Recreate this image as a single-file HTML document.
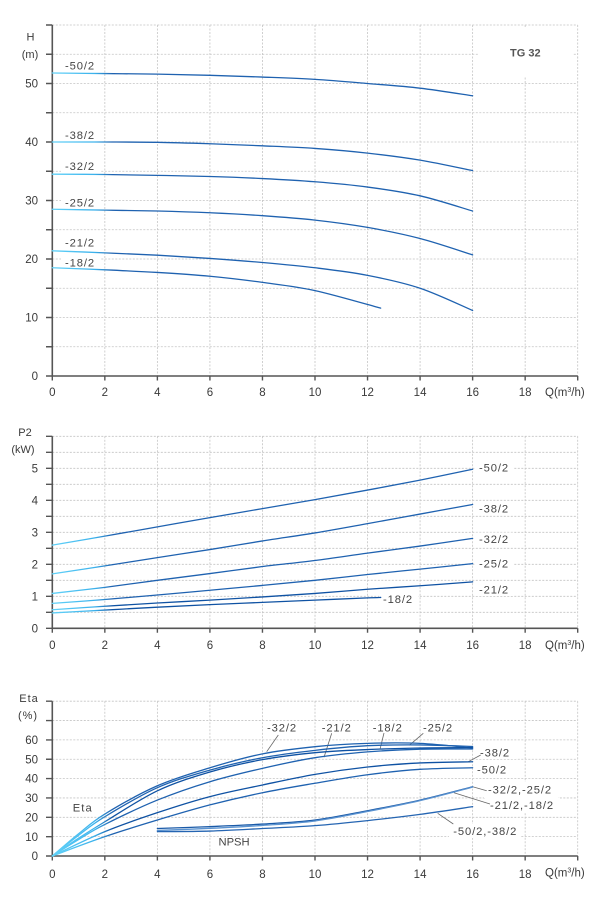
<!DOCTYPE html>
<html><head><meta charset="utf-8"><style>
html,body{margin:0;padding:0;background:#fff}
svg{display:block;font-family:"Liberation Sans",Arial,sans-serif}
.t{font-size:11.5px;fill:#3a3a3a}
.l{font-size:11.2px;fill:#444;letter-spacing:0.9px}
.g{stroke:#c4c4c4;stroke-width:0.8;stroke-dasharray:2 1.5;fill:none}
.ax{stroke:#555;stroke-width:1.6;fill:none}
.tk{stroke:#555;stroke-width:1.4;fill:none}
.pt{stroke:#666;stroke-width:0.8;fill:none}
.s{fill:none;stroke-width:1.3;stroke-linejoin:round;stroke-linecap:round}
</style></head><body>
<svg width="613" height="900" viewBox="0 0 613 900" xmlns="http://www.w3.org/2000/svg">
<defs>
<linearGradient id="gr" gradientUnits="userSpaceOnUse" x1="0" y1="0" x2="2.3" y2="0">
<stop offset="0" stop-color="#62d2f8"/><stop offset="0.7" stop-color="#3cb2ec"/><stop offset="1" stop-color="#1f62b0"/>
</linearGradient>
<linearGradient id="gr2" gradientUnits="userSpaceOnUse" x1="0" y1="0" x2="2.3" y2="0">
<stop offset="0" stop-color="#62d2f8"/><stop offset="0.7" stop-color="#3cb2ec"/><stop offset="1" stop-color="#0f52a3"/>
</linearGradient>
</defs>

<!-- ============ TOP CHART ============ -->
<path class="g" d="M52.3 346.75H577.7M52.3 317.5H577.7M52.3 288.25H577.7M52.3 259H577.7M52.3 229.75H577.7M52.3 200.5H577.7M52.3 171.25H577.7M52.3 142H577.7M52.3 112.75H577.7M52.3 83.5H577.7M52.3 54.25H577.7M52.3 25H577.7"/>
<path class="g" d="M104.84 25V376M157.38 25V376M209.92 25V376M262.46 25V376M315 25V376M367.54 25V376M420.08 25V376M472.62 25V376M525.16 25V376M577.7 25V376"/>
<rect x="479" y="27" width="94" height="50" fill="#fff"/>
<text x="525.3" y="56.3" text-anchor="middle" style="font-size:11px;font-weight:bold;fill:#555">TG 32</text>
<path class="ax" d="M52.3 25V376H577.7"/>
<path class="tk" d="M46 346.75H52.3M46 317.5H52.3M46 288.25H52.3M46 259H52.3M46 229.75H52.3M46 200.5H52.3M46 171.25H52.3M46 142H52.3M46 112.75H52.3M46 83.5H52.3M46 54.25H52.3M46 25H52.3M46 376H52.3"/>
<path class="tk" d="M52.3 376v4.5M104.84 376v4.5M157.38 376v4.5M209.92 376v4.5M262.46 376v4.5M315 376v4.5M367.54 376v4.5M420.08 376v4.5M472.62 376v4.5M525.16 376v4.5M577.7 376v4.5"/>
<g class="t" text-anchor="end">
<text x="38" y="380.1">0</text><text x="38" y="321.6">10</text><text x="38" y="263.1">20</text><text x="38" y="204.6">30</text><text x="38" y="146.1">40</text><text x="38" y="87.6">50</text>
</g>
<g class="t" text-anchor="middle">
<text x="52.3" y="396">0</text><text x="104.84" y="396">2</text><text x="157.38" y="396">4</text><text x="209.92" y="396">6</text><text x="262.46" y="396">8</text><text x="315" y="396">10</text><text x="367.54" y="396">12</text><text x="420.08" y="396">14</text><text x="472.62" y="396">16</text><text x="525.16" y="396">18</text>
<text x="30.5" y="40.7" style="font-size:11px">H</text><text x="30" y="58" style="font-size:11px">(m)</text>
</g>
<text x="545" y="396" class="t">Q(m<tspan dy="-4" style="font-size:7px">3</tspan><tspan dy="4">/h)</tspan></text>
<g fill="#fff">
<rect x="61" y="59" width="40" height="13"/><rect x="61" y="128.5" width="40" height="13"/><rect x="61" y="159.5" width="40" height="13"/><rect x="61" y="196" width="40" height="13"/><rect x="61" y="236" width="40" height="13"/><rect x="61" y="256" width="40" height="13"/>
</g>
<g class="l">
<text x="65" y="69.7">-50/2</text><text x="65" y="139">-38/2</text><text x="65" y="170">-32/2</text><text x="65" y="206.7">-25/2</text><text x="65" y="246.7">-21/2</text><text x="65" y="266.7">-18/2</text>
</g>
<g transform="matrix(26.27 0 0 -5.85 52.3 376)">
<polyline class="s" vector-effect="non-scaling-stroke" stroke="url(#gr)" points="0,51.8 2,51.7 4,51.6 6,51.4 8,51.1 10,50.7 12,50.0 14,49.2 16,47.9"/>
<polyline class="s" vector-effect="non-scaling-stroke" stroke="url(#gr)" points="0,40.0 2,40.0 4,39.95 6,39.7 8,39.35 10,38.9 12,38.1 14,36.9 16,35.1"/>
<polyline class="s" vector-effect="non-scaling-stroke" stroke="url(#gr)" points="0,34.5 2,34.45 4,34.3 6,34.1 8,33.75 10,33.2 12,32.3 14,30.8 16,28.2"/>
<polyline class="s" vector-effect="non-scaling-stroke" stroke="url(#gr)" points="0,28.5 2,28.35 4,28.2 6,27.9 8,27.4 10,26.65 12,25.4 14,23.5 16,20.7"/>
<polyline class="s" vector-effect="non-scaling-stroke" stroke="url(#gr)" points="0,21.4 2,21.05 4,20.65 6,20.1 8,19.4 10,18.5 12,17.2 14,15.0 16,11.2"/>
<polyline class="s" vector-effect="non-scaling-stroke" stroke="url(#gr)" points="0,18.5 2,18.15 4,17.7 6,17.05 8,16.0 10,14.6 12.5,11.6"/>
</g>

<!-- ============ MIDDLE CHART ============ -->
<path class="g" d="M52.3 612.3H577.7M52.3 596.3H577.7M52.3 580.3H577.7M52.3 564.3H577.7M52.3 548.3H577.7M52.3 532.3H577.7M52.3 516.3H577.7M52.3 500.3H577.7M52.3 484.3H577.7M52.3 468.3H577.7M52.3 452.3H577.7M52.3 436.3H577.7"/>
<path class="g" d="M104.84 436.3V628.3M157.38 436.3V628.3M209.92 436.3V628.3M262.46 436.3V628.3M315 436.3V628.3M367.54 436.3V628.3M420.08 436.3V628.3M472.62 436.3V628.3M525.16 436.3V628.3M577.7 436.3V628.3"/>
<path class="ax" d="M52.3 436.3V628.3H577.7"/>
<path class="tk" d="M46 612.3H52.3M46 596.3H52.3M46 580.3H52.3M46 564.3H52.3M46 548.3H52.3M46 532.3H52.3M46 516.3H52.3M46 500.3H52.3M46 484.3H52.3M46 468.3H52.3M46 452.3H52.3M46 436.3H52.3M46 628.3H52.3"/>
<path class="tk" d="M52.3 628.3v4.5M104.84 628.3v4.5M157.38 628.3v4.5M209.92 628.3v4.5M262.46 628.3v4.5M315 628.3v4.5M367.54 628.3v4.5M420.08 628.3v4.5M472.62 628.3v4.5M525.16 628.3v4.5M577.7 628.3v4.5"/>
<g class="t" text-anchor="end">
<text x="38" y="632.4">0</text><text x="38" y="600.4">1</text><text x="38" y="568.4">2</text><text x="38" y="536.4">3</text><text x="38" y="504.4">4</text><text x="38" y="472.4">5</text>
</g>
<g class="t" text-anchor="middle">
<text x="52.3" y="649">0</text><text x="104.84" y="649">2</text><text x="157.38" y="649">4</text><text x="209.92" y="649">6</text><text x="262.46" y="649">8</text><text x="315" y="649">10</text><text x="367.54" y="649">12</text><text x="420.08" y="649">14</text><text x="472.62" y="649">16</text><text x="525.16" y="649">18</text>
<text x="25" y="436" style="font-size:11px">P2</text><text x="23" y="453" style="font-size:11px">(kW)</text>
</g>
<text x="545" y="649" class="t">Q(m<tspan dy="-4" style="font-size:7px">3</tspan><tspan dy="4">/h)</tspan></text>
<g fill="#fff">
<rect x="475" y="461" width="39" height="13"/><rect x="475" y="502" width="39" height="13"/><rect x="475" y="532.5" width="39" height="13"/><rect x="475" y="557" width="39" height="13"/><rect x="475" y="583" width="39" height="13"/><rect x="379" y="592.5" width="39" height="13"/>
</g>
<g class="l">
<text x="479" y="471.7">-50/2</text><text x="479" y="512.3">-38/2</text><text x="479" y="543">-32/2</text><text x="479" y="567.3">-25/2</text><text x="479" y="593.3">-21/2</text><text x="383" y="603">-18/2</text>
</g>
<g transform="matrix(26.27 0 0 -32 52.3 628.3)">
<polyline class="s" vector-effect="non-scaling-stroke" stroke="url(#gr)" points="0,2.6 2,2.88 4,3.17 6,3.46 8,3.74 10,4.02 12,4.32 14,4.63 16,4.97"/>
<polyline class="s" vector-effect="non-scaling-stroke" stroke="url(#gr)" points="0,1.70 2,1.95 4,2.21 6,2.46 8,2.73 10,2.98 12,3.27 14,3.57 16,3.87"/>
<polyline class="s" vector-effect="non-scaling-stroke" stroke="url(#gr)" points="0,1.09 2,1.28 4,1.5 6,1.71 8,1.93 10,2.12 12,2.35 14,2.57 16,2.81"/>
<polyline class="s" vector-effect="non-scaling-stroke" stroke="url(#gr)" points="0,0.78 2,0.9 4,1.04 6,1.19 8,1.34 10,1.5 12,1.68 14,1.85 16,2.02"/>
<polyline class="s" vector-effect="non-scaling-stroke" stroke="url(#gr2)" points="0,0.58 2,0.69 4,0.79 6,0.88 8,0.98 10,1.09 12,1.22 14,1.33 16,1.45"/>
<polyline class="s" vector-effect="non-scaling-stroke" stroke="url(#gr2)" points="0,0.48 2,0.57 4,0.66 6,0.74 8,0.81 10,0.88 12,0.95 12.5,0.965"/>
</g>

<!-- ============ BOTTOM CHART ============ -->
<path class="g" d="M52.3 836.65H577.7M52.3 817.3H577.7M52.3 797.95H577.7M52.3 778.6H577.7M52.3 759.25H577.7M52.3 739.9H577.7M52.3 720.55H577.7M52.3 701.2H577.7"/>
<path class="g" d="M104.84 701.2V856M157.38 701.2V856M209.92 701.2V856M262.46 701.2V856M315 701.2V856M367.54 701.2V856M420.08 701.2V856M472.62 701.2V856M525.16 701.2V856M577.7 701.2V856"/>
<path class="ax" d="M52.3 701.2V856H577.7"/>
<path class="tk" d="M46 836.65H52.3M46 817.3H52.3M46 797.95H52.3M46 778.6H52.3M46 759.25H52.3M46 739.9H52.3M46 720.55H52.3M46 701.2H52.3M46 856H52.3"/>
<path class="tk" d="M52.3 856v4.5M104.84 856v4.5M157.38 856v4.5M209.92 856v4.5M262.46 856v4.5M315 856v4.5M367.54 856v4.5M420.08 856v4.5M472.62 856v4.5M525.16 856v4.5M577.7 856v4.5"/>
<g class="t" text-anchor="end">
<text x="38" y="860.1">0</text><text x="38" y="840.75">10</text><text x="38" y="821.4">20</text><text x="38" y="802.05">30</text><text x="38" y="782.7">40</text><text x="38" y="763.35">50</text><text x="38" y="744">60</text>
</g>
<g class="t" text-anchor="middle">
<text x="52.3" y="878">0</text><text x="104.84" y="878">2</text><text x="157.38" y="878">4</text><text x="209.92" y="878">6</text><text x="262.46" y="878">8</text><text x="315" y="878">10</text><text x="367.54" y="878">12</text><text x="420.08" y="878">14</text><text x="472.62" y="878">16</text><text x="525.16" y="878">18</text>
<text x="29" y="702" style="font-size:11px;letter-spacing:1px">Eta</text><text x="28" y="719" style="font-size:11px;letter-spacing:1px">(%)</text>
</g>
<text x="545" y="876.7" class="t">Q(m<tspan dy="-4" style="font-size:7px">3</tspan><tspan dy="4">/h)</tspan></text>
<g fill="#fff">
<rect x="484" y="782" width="74" height="16"/><rect x="486" y="798" width="74" height="14"/><rect x="449" y="824" width="72" height="14"/><rect x="476" y="746" width="40" height="13"/><rect x="473" y="763" width="40" height="13"/>
</g>
<g class="l">
<text x="267" y="731.3">-32/2</text><text x="321.7" y="731.3">-21/2</text><text x="372.7" y="731.3">-18/2</text><text x="423" y="731.3">-25/2</text>
<text x="480" y="756.7">-38/2</text><text x="477" y="773.3">-50/2</text>
<text x="488" y="793.3">-32/2,-25/2</text><text x="490" y="809">-21/2,-18/2</text><text x="453.3" y="835">-50/2,-38/2</text>
<text x="72.7" y="811.7" style="letter-spacing:1.1px">Eta</text>
<text x="218.5" y="845.7" style="letter-spacing:0">NPSH</text>
</g>
<path class="pt" d="M278.3 735L266.7 751.7M331.7 733.3L324 757.3M384 733L380 749.3M423.3 733.3L409.3 745.3M480.7 755L468.3 761.7M486.7 790.7L472.7 786.7M490 804L454 792.7M453.3 824L437.7 813.3"/>
<g transform="matrix(26.27 0 0 -1.935 52.3 856)">
<polyline class="s" vector-effect="non-scaling-stroke" stroke="url(#gr)" points="0,0 1,11.5 2,21.7 4,36.3 6,45.6 8,52.8 10,56.5 12,58.2 14,58.2 16,55.8"/>
<polyline class="s" vector-effect="non-scaling-stroke" stroke="url(#gr)" points="0,0 1,10.7 2,20.3 4,35.3 6,44.4 8,50.8 10,54.6 12,57.0 14,57.4 16,56.6"/>
<polyline class="s" vector-effect="non-scaling-stroke" stroke="url(#gr2)" points="0,0 1,9.2 2,17.7 4,33.7 6,43.4 8,49.8 10,53.4 12,55.0 14,55.8 16,56.0"/>
<polyline class="s" vector-effect="non-scaling-stroke" stroke="url(#gr)" points="0,0 1,8.5 2,16.3 4,28.9 6,38.4 8,45.3 10,50.8 12,53.8 14,55.2 16,55.3"/>
<polyline class="s" vector-effect="non-scaling-stroke" stroke="url(#gr2)" points="0,0 2,12.6 4,22.4 6,30.7 8,36.7 10,42.2 12,46.0 14,48.1 16,48.7"/>
<polyline class="s" vector-effect="non-scaling-stroke" stroke="url(#gr)" points="0,0 2,10 4,18.6 6,26.4 8,32.7 10,37.6 12,42.0 14,44.8 16,45.6"/>
<polyline class="s" vector-effect="non-scaling-stroke" stroke="#1a5aa8" points="4,14.2 6,15.2 8,16.5 10,18.6 12,23.4 14,28.9 16,35.8"/>
<polyline class="s" vector-effect="non-scaling-stroke" stroke="#5b93d0" points="4,13.2 6,14.3 8,15.8 10,18.1 12,23.0 14,28.6 16,35.6"/>
<polyline class="s" vector-effect="non-scaling-stroke" stroke="#2565b2" points="4,12.6 6,12.9 8,14.2 10,15.7 12,18.3 14,21.5 16,25.5"/>
</g>
</svg>
<script>
(function(){
var ns="http://www.w3.org/2000/svg";
var pls=document.querySelectorAll("polyline.s");
for(var k=0;k<pls.length;k++){
 var pl=pls[k];
 var pts=pl.getAttribute("points").trim().split(/\s+/).map(function(p){return p.split(",").map(Number);});
 var d="M"+pts[0][0]+" "+pts[0][1];
 for(var i=0;i<pts.length-1;i++){
  var p0=pts[i-1]||pts[i],p1=pts[i],p2=pts[i+1],p3=pts[i+2]||pts[i+1];
  var c1x=p1[0]+(p2[0]-p0[0])/6,c1y=p1[1]+(p2[1]-p0[1])/6;
  var c2x=p2[0]-(p3[0]-p1[0])/6,c2y=p2[1]-(p3[1]-p1[1])/6;
  d+=" C"+c1x+" "+c1y+" "+c2x+" "+c2y+" "+p2[0]+" "+p2[1];
 }
 var path=document.createElementNS(ns,"path");
 for(var a=0;a<pl.attributes.length;a++){var at=pl.attributes[a];if(at.name!=="points")path.setAttribute(at.name,at.value);}
 path.setAttribute("d",d);
 pl.parentNode.replaceChild(path,pl);
}
})();
</script>
</body></html>
